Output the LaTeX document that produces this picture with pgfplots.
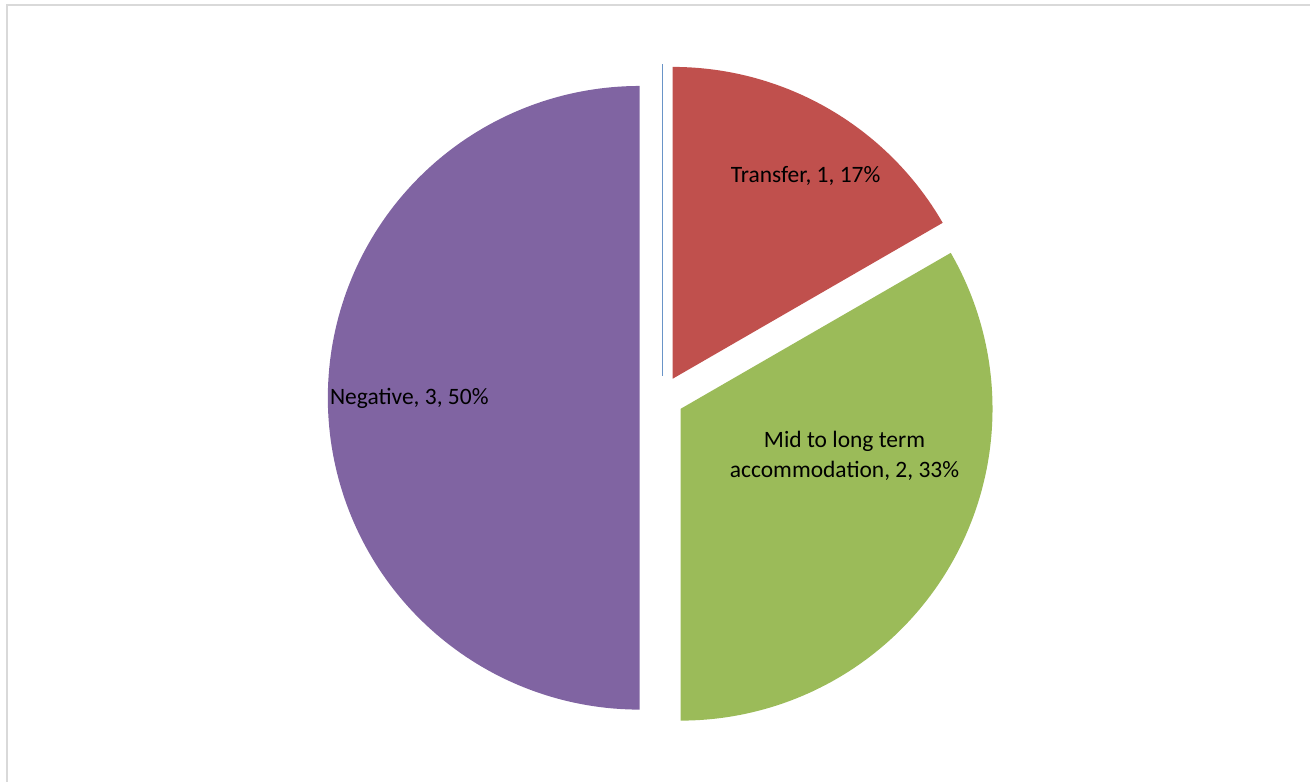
\documentclass[border=0pt]{standalone}
\usepackage{pgfplots}
\pgfplotsset{compat=1.18}
\usepackage{fontspec}
\setmainfont{Carlito}

\definecolor{sBlue}{HTML}{4F81BD}
\definecolor{sRed}{HTML}{C0504D}
\definecolor{sGreen}{HTML}{9BBB59}
\definecolor{sPurple}{HTML}{8064A2}

% pie geometry (axis units = 1pt)
\def\cx{662}\def\cy{384}\def\rad{312}\def\expl{22}\def\total{6}

% \slice{values before}{value}{colour}
\newcommand\slice[3]{%
  \pgfmathsetmacro\sa{90-360*(#1+#2)/\total}%
  \pgfmathsetmacro\sb{90-360*#1/\total}%
  \pgfmathsetmacro\sm{(\sa+\sb)/2}%
  \pgfmathsetmacro\ox{\cx+\expl*cos(\sm)}%
  \pgfmathsetmacro\oy{\cy+\expl*sin(\sm)}%
  \edef\temp{\noexpand\addplot[fill=#3, draw=none, domain=\sa:\sb,
      samples=150, variable=\noexpand\t]
    ({\ox+\rad*cos(\noexpand\t)}, {\oy+\rad*sin(\noexpand\t)})
    -- (axis cs:\ox,\oy) -- cycle;}%
  \temp
}

\begin{document}
\begin{tikzpicture}
\begin{axis}[
    scale only axis,
    width=1311pt, height=782pt,
    xmin=0, xmax=1311, ymin=0, ymax=782,
    hide axis,
    clip=false,
]
  \path (axis cs:0,0) rectangle (axis cs:1311,782);
  \draw[black!15, line width=1.4pt] (axis cs:7,0) -- (axis cs:7,777) -- (axis cs:1311,777);

  % Positive, 0, 0% : a zero slice, drawn as a line at 90 degrees
  \addplot[sBlue!85!white, line width=1.2pt, domain=0:\rad, samples=2, variable=\t]
    ({\cx+0.5}, {\cy+\expl+\t});
  \slice{0}{1}{sRed}     % Transfer
  \slice{1}{2}{sGreen}   % Mid to long term accommodation
  \slice{3}{3}{sPurple}  % Negative

  \node[font=\fontsize{23.5}{30}\selectfont, align=center] at (axis cs:806,606)
    {Transfer, 1, 17\%};
  \node[font=\fontsize{23.5}{30}\selectfont, align=center] at (axis cs:845,326)
    {Mid to long term\\accommodation, 2, 33\%};
  \node[font=\fontsize{23.5}{30}\selectfont, anchor=west, inner sep=0pt] at (axis cs:330,383)
    {Negative, 3, 50\%};
\end{axis}
\end{tikzpicture}
\end{document}
